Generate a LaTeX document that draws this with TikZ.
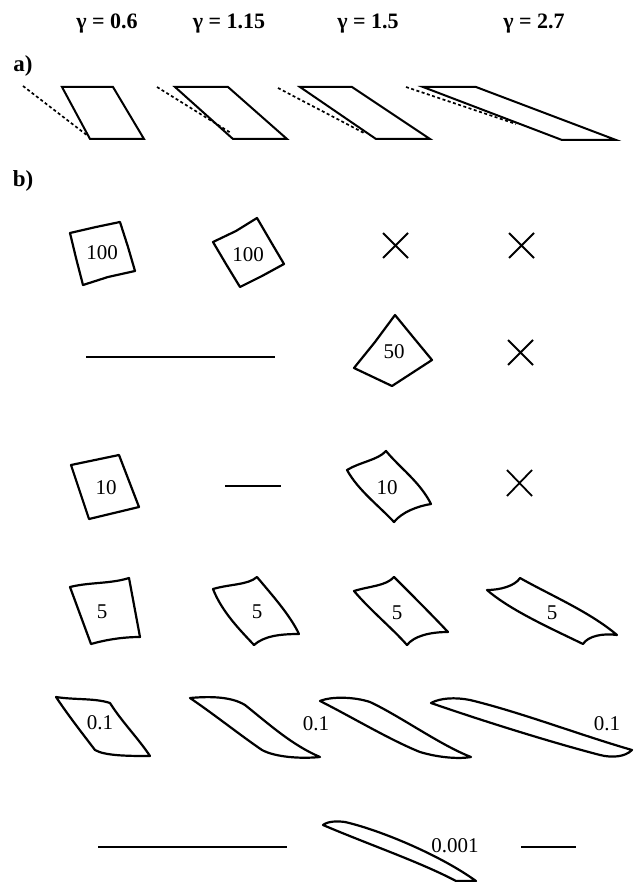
\documentclass[tikz,border=0pt]{standalone}
\usepackage{fontspec}
\setmainfont{Liberation Serif}
\usetikzlibrary{calc}

\tikzset{
  head/.style={font=\fontsize{22}{22}\selectfont\bfseries},
  tag/.style={font=\fontsize{23}{23}\selectfont\bfseries},
  val/.style={font=\fontsize{21}{21}\selectfont},
  cell/.style={line width=2.2pt, line join=round, line cap=round},
  shear/.style={line width=2pt, line join=miter},
  axisline/.style={line width=1.7pt, dash pattern=on 3pt off 2.5pt},
  gone/.style={line width=1.8pt},
  bar/.style={line width=1.8pt},
}

\begin{document}
\begin{tikzpicture}[x=1pt, y=-1pt]
  \useasboundingbox (0,0) rectangle (633,882);

  % Column headers
  \node[head] (g1) at (107,24) {γ = 0.6};
  \node[head] (g2) at (229,24) {γ = 1.15};
  \node[head] (g3) at (368,24) {γ = 1.5};
  \node[head] (g4) at (534,24) {γ = 2.7};

  % --- a) sheared unit cells ---
  \node[tag] (ta) at (23,66) {a)};
  \draw[shear] (62,87) -- (113,87) -- (144,139) -- (90,139) -- cycle;
  \draw[axisline] (23,86) -- (88,136);
  \draw[shear] (175,87) -- (228,87) -- (287,139) -- (233,139) -- cycle;
  \draw[axisline] (157,87) -- (231,133);
  \draw[shear] (300,87) -- (352,87) -- (430,139) -- (376,139) -- cycle;
  \draw[axisline] (278,88) -- (364,133);
  \draw[shear] (423,87) -- (476,87) -- (616,140) -- (562,140) -- cycle;
  \draw[axisline] (406,87) -- (516,124);

  % --- b) deformed cells ---
  \node[tag] (tb) at (23,181) {b)};

  % row 100
  \draw[cell] (70,233) -- (96,227) -- (120,222) -- (128,247) -- (135,271) -- (108,277) -- (83,285) -- (76,258) -- cycle;
  \node[val] (c11) at (102,253) {100};
  \draw[cell] (213,242) -- (236,231) -- (257,218) -- (271,242) -- (284,264) -- (262,276) -- (240,287) -- (226,264) -- cycle;
  \node[val] (c12) at (248,255) {100};
  \draw[gone] (383,233) -- (408,258) (383,258) -- (408,233);
  \draw[gone] (509,233) -- (534,258) (509,258) -- (534,233);

  % row 50
  \draw[bar] (86,357) -- (275,357);
  \draw[cell] (354,368) -- (375,342) -- (395,315) -- (413,337) -- (432,360) -- (412,373) -- (392,386) -- (373,377) -- cycle;
  \node[val] (c23) at (394,352) {50};
  \draw[gone] (508,340) -- (533,365) (508,365) -- (533,340);

  % row 10
  \draw[cell] (71,465) -- (95,460) -- (119,455) -- (129,481) -- (139,507) -- (114,513) -- (89,519) -- (80,492) -- cycle;
  \node[val] (c31) at (106,488) {10};
  \draw[bar] (225,486) -- (281,486);
  \draw[cell] (347,470) .. controls (360,462) and (378,460) .. (386,451)
    .. controls (400,468) and (420,482) .. (431,504)
    .. controls (418,506) and (402,512) .. (394,522)
    .. controls (378,505) and (358,490) .. (347,470) -- cycle;
  \node[val] (c33) at (387,488) {10};
  \draw[gone] (507,470) -- (532,496) (507,496) -- (532,470);

  % row 5
  \draw[cell] (70,587) .. controls (90,582) and (110,584) .. (129,578)
    -- (140,637) .. controls (122,637) and (105,640) .. (91,644) -- cycle;
  \node[val] (c41) at (102,612) {5};
  \draw[cell] (213,589) .. controls (230,584) and (248,585) .. (257,577)
    .. controls (272,595) and (290,615) .. (299,634)
    .. controls (280,634) and (264,636) .. (254,645)
    .. controls (240,630) and (222,612) .. (213,589) -- cycle;
  \node[val] (c42) at (257,612) {5};
  \draw[cell] (354,591) .. controls (370,586) and (386,586) .. (394,577)
    .. controls (412,595) and (432,615) .. (448,632)
    .. controls (430,632) and (414,636) .. (407,645)
    .. controls (392,628) and (370,610) .. (354,591) -- cycle;
  \node[val] (c43) at (397,613) {5};
  \draw[cell] (487,590) .. controls (500,590) and (515,586) .. (520,578)
    .. controls (550,595) and (590,612) .. (617,635)
    .. controls (603,633) and (588,636) .. (583,644)
    .. controls (550,628) and (510,610) .. (487,590) -- cycle;
  \node[val] (c44) at (552,613) {5};

  % row 0.1
  \draw[cell] (56,697) .. controls (75,700) and (95,698) .. (110,703)
    .. controls (122,722) and (138,738) .. (150,756)
    .. controls (130,756) and (105,756) .. (95,750)
    .. controls (82,733) and (68,715) .. (56,697) -- cycle;
  \node[val] (c51) at (100,723) {0.1};
  \draw[cell] (190,698) .. controls (212,696) and (232,697) .. (245,705)
    .. controls (270,725) and (292,745) .. (320,757)
    .. controls (300,759) and (275,757) .. (262,750)
    .. controls (240,735) and (215,715) .. (190,698) -- cycle;
  \node[val] (c52) at (316,724) {0.1};
  \draw[cell] (320,701) .. controls (332,696) and (355,697) .. (370,702)
    .. controls (400,716) and (440,745) .. (471,757)
    .. controls (460,759) and (440,758) .. (420,752)
    .. controls (390,740) and (350,716) .. (320,701) -- cycle;
  \draw[cell] (431,703) .. controls (440,698) and (455,697) .. (470,700)
    .. controls (520,712) and (580,735) .. (632,750)
    .. controls (625,757) and (612,758) .. (600,755)
    .. controls (550,742) and (480,720) .. (431,703) -- cycle;
  \node[val] (c54) at (607,724) {0.1};

  % row 0.001
  \draw[bar] (98,847) -- (287,847);
  \draw[cell] (323,825) .. controls (328,821) and (338,821) .. (345,822)
    .. controls (380,830) and (440,855) .. (476,881)
    -- (456,881) .. controls (420,862) and (370,845) .. (323,825) -- cycle;
  \node[val] (c63) at (455,846) {0.001};
  \draw[bar] (521,847) -- (576,847);
\end{tikzpicture}
\end{document}
